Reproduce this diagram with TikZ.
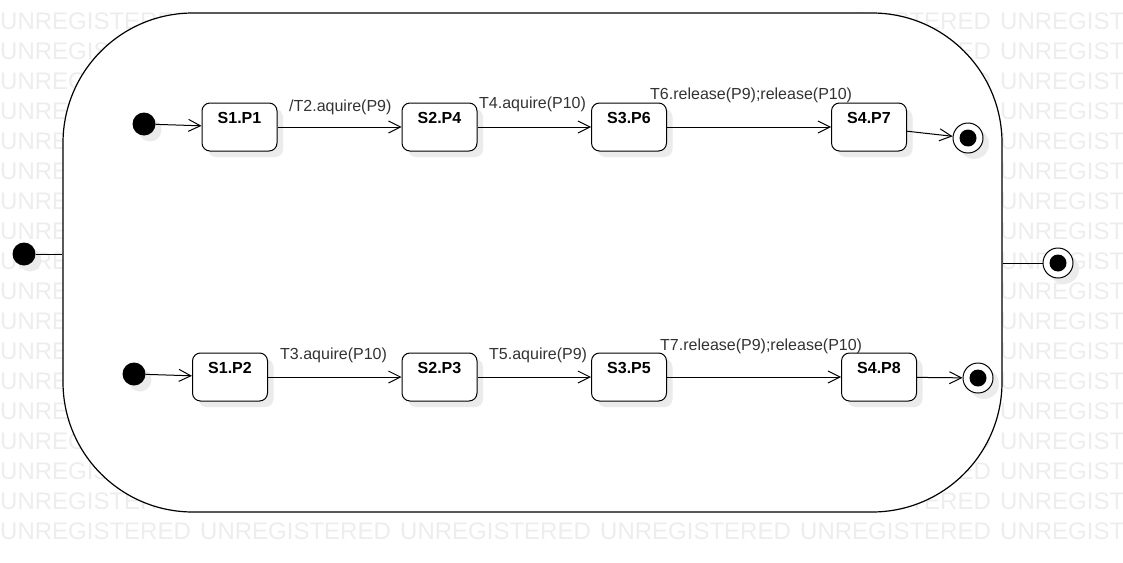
\documentclass[tikz,border=0pt]{standalone}
\usepackage{fontspec}
\setmainfont{Liberation Sans}
\usetikzlibrary{arrows.meta,shadows}
\tikzset{
  softshadow/.style={drop shadow={shadow xshift=6pt, shadow yshift=-6pt, fill=black!8, opacity=1}},
  statebox/.style={draw, fill=white, line width=1pt, rounded corners=8pt, minimum width=75pt, minimum height=48pt,
    inner sep=2pt, text height=18pt, text depth=26pt, font=\fontsize{16}{19}\selectfont\bfseries, softshadow},
  initdot/.style={circle, fill=black, minimum size=23pt, inner sep=0pt, softshadow},
  finaldot/.style={circle, draw, fill=white, line width=1pt, minimum size=30pt, inner sep=0pt, softshadow,
    path picture={\fill[black] (path picture bounding box.center) circle (8.5pt);}},
  trans/.style={line width=1pt, -{Straight Barb[length=12pt,width=12pt]}},
  trlabel/.style={anchor=west, inner sep=0pt, text=black!80, font=\fontsize{16}{19}\selectfont},
  watermark/.style={anchor=base west, inner sep=0pt, text=black!7, font=\fontsize{24}{28}\selectfont}
}
\begin{document}
\begin{tikzpicture}[x=1pt, y=-1pt]
  \useasboundingbox (0,0) rectangle (1123,562);
  % watermark, only where it shows outside the composite state
  \begin{scope}
    \clip (0,0) rectangle (1123,562);
    \foreach \row in {0,...,17} {
      \node[watermark] (wm-0-\row) at (0,{29+30*\row}) {UNREGISTERED};
      \node[watermark] (wm-1000-\row) at (1000,{29+30*\row}) {UNREGISTERED};
    }
    \foreach \row in {0,1,2,3,14,15,16,17}
      \node[watermark] (wm-800-\row) at (800,{29+30*\row}) {UNREGISTERED};
    \foreach \col in {200,400,600}
      \node[watermark] (wm-\col-17) at (\col,539) {UNREGISTERED};
  \end{scope}
  % composite state
  \node[draw, fill=white, line width=1.2pt, rounded corners=130pt, minimum width=939pt, minimum height=499pt,
    inner sep=0pt] (comp) at (532.5,262.5) {};
  \node[initdot] (init) at (24,254) {};
  \node[finaldot] (fin) at (1058,263) {};
  \draw[line width=1pt] (init) -- (comp.west |- init);
  \draw[line width=1pt] (comp.east |- fin) -- (fin);
  % states of both threads
  \foreach \nm/\x/\y/\txt in {s1p1/239.5/127/S1.P1, s2p4/439.5/127/S2.P4, s3p6/629/127/S3.P6, s4p7/869/127/S4.P7,
                              s1p2/230/377/S1.P2, s2p3/439.5/377/S2.P3, s3p5/629/377/S3.P5, s4p8/879/377/S4.P8}
    \node[statebox] (\nm) at (\x,\y) {\txt};
  \node[initdot] (inita) at (144,124) {};
  \node[initdot] (initb) at (134,374) {};
  \node[finaldot] (fina) at (968,138) {};
  \node[finaldot] (finb) at (978,378) {};
  % transitions
  \draw[trans] (inita) -- (s1p1);
  \draw[trans] (s1p1) -- (s2p4);
  \draw[trans] (s2p4) -- (s3p6);
  \draw[trans] (s3p6) -- (s4p7);
  \draw[trans] (s4p7) -- (fina);
  \draw[trans] (initb) -- (s1p2);
  \draw[trans] (s1p2) -- (s2p3);
  \draw[trans] (s2p3) -- (s3p5);
  \draw[trans] (s3p5) -- (s4p8);
  \draw[trans] (s4p8) -- (finb);
  % transition labels
  \node[trlabel] (l12) at (289,107) {/T2.aquire(P9)};
  \node[trlabel] (l23) at (479,104) {T4.aquire(P10)};
  \node[trlabel] (l34) at (650,95) {T6.release(P9);release(P10)};
  \node[trlabel] (l56) at (280,355) {T3.aquire(P10)};
  \node[trlabel] (l67) at (489,355) {T5.aquire(P9)};
  \node[trlabel] (l78) at (660,346) {T7.release(P9);release(P10)};
\end{tikzpicture}
\end{document}
